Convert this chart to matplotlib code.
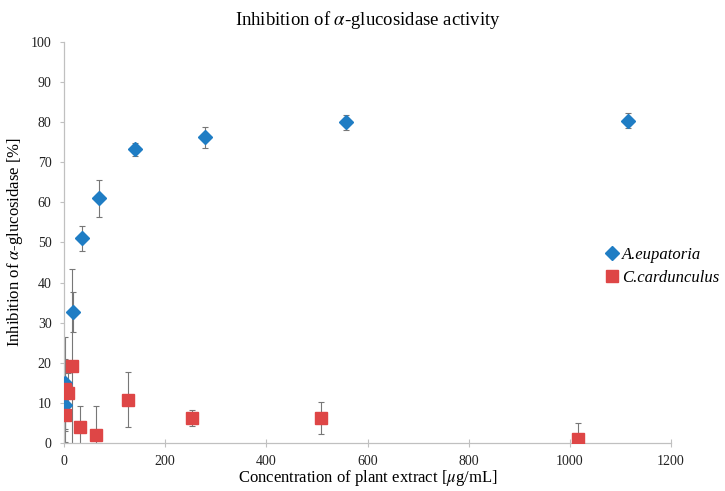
import numpy as np
import matplotlib
matplotlib.use('Agg')
import matplotlib.pyplot as plt

# A. eupatoria
ae_conc = [1.1, 2.2, 17.4, 34.9, 69.75, 139.5, 279, 558, 1116]
ae_inhib = [9.5, 15.0, 32.6, 51.0, 61.0, 73.2, 76.2, 80.0, 80.4]
ae_err = [6.0, 6.0, 5.0, 3.2, 4.7, 1.7, 2.6, 1.9, 1.9]

# C. cardunculus
cc_conc = [0.99, 1.98, 7.94, 15.9, 31.75, 63.5, 127, 254, 508, 1016]
cc_inhib = [13.4, 7.0, 12.4, 19.3, 3.9, 1.9, 10.8, 6.2, 6.2, 1.0]
cc_err = [13.1, 4.0, 5.0, 24.0, 5.2, 7.4, 6.8, 1.9, 4.0, 4.1]

plt.rcParams['font.family'] = ['Liberation Serif', 'DejaVu Serif']
plt.rcParams['mathtext.fontset'] = 'stix'

fig = plt.figure(figsize=(7.25, 4.91), dpi=100)
ax = fig.add_axes([0.0883, 0.0978, 0.8372, 0.8167])

blue = '#1f7dc4'
red = '#de4646'
errc = '#777777'

ax.errorbar(ae_conc, ae_inhib, yerr=ae_err, fmt='none', ecolor=errc,
            elinewidth=0.8, capsize=2, capthick=0.8, zorder=2)
ax.errorbar(cc_conc, cc_inhib, yerr=cc_err, fmt='none', ecolor=errc,
            elinewidth=0.8, capsize=2, capthick=0.8, zorder=2)
ax.plot(ae_conc, ae_inhib, 'D', color=blue, markersize=7, linestyle='none',
        label='A.eupatoria', zorder=3)
ax.plot(cc_conc, cc_inhib, 's', color=red, markersize=9, linestyle='none',
        label='C.cardunculus', zorder=3)

ax.set_xlim(0, 1200)
ax.set_ylim(0, 100)
ax.set_xticks(np.arange(0, 1201, 200))
ax.set_yticks(np.arange(0, 101, 10))

for s in ['top', 'right']:
    ax.spines[s].set_visible(False)
for s in ['left', 'bottom']:
    ax.spines[s].set_color('#c0c0c0')
    ax.spines[s].set_linewidth(0.9)
ax.tick_params(axis='both', colors='#c0c0c0', labelcolor='#222222',
               labelsize=10, length=3, width=0.8)
ax.tick_params(axis='x', direction='inout', length=6, pad=6)
ax.tick_params(axis='y', pad=6)

ax.set_title('Inhibition of $\\alpha$-glucosidase activity', fontsize=13.5, pad=12)
ax.set_xlabel('Concentration of plant extract [$\\mu$g/mL]', fontsize=12, labelpad=0)
ax.set_ylabel('Inhibition of $\\alpha$-glucosidase [%]', fontsize=12, labelpad=4)

leg = ax.legend(loc='center left', bbox_to_anchor=(0.878, 0.44), frameon=False,
                prop={'style': 'italic', 'size': 12}, handletextpad=0.1,
                handlelength=1.0, borderaxespad=0, labelspacing=0.4)

fig.savefig('out.png', dpi=100)
